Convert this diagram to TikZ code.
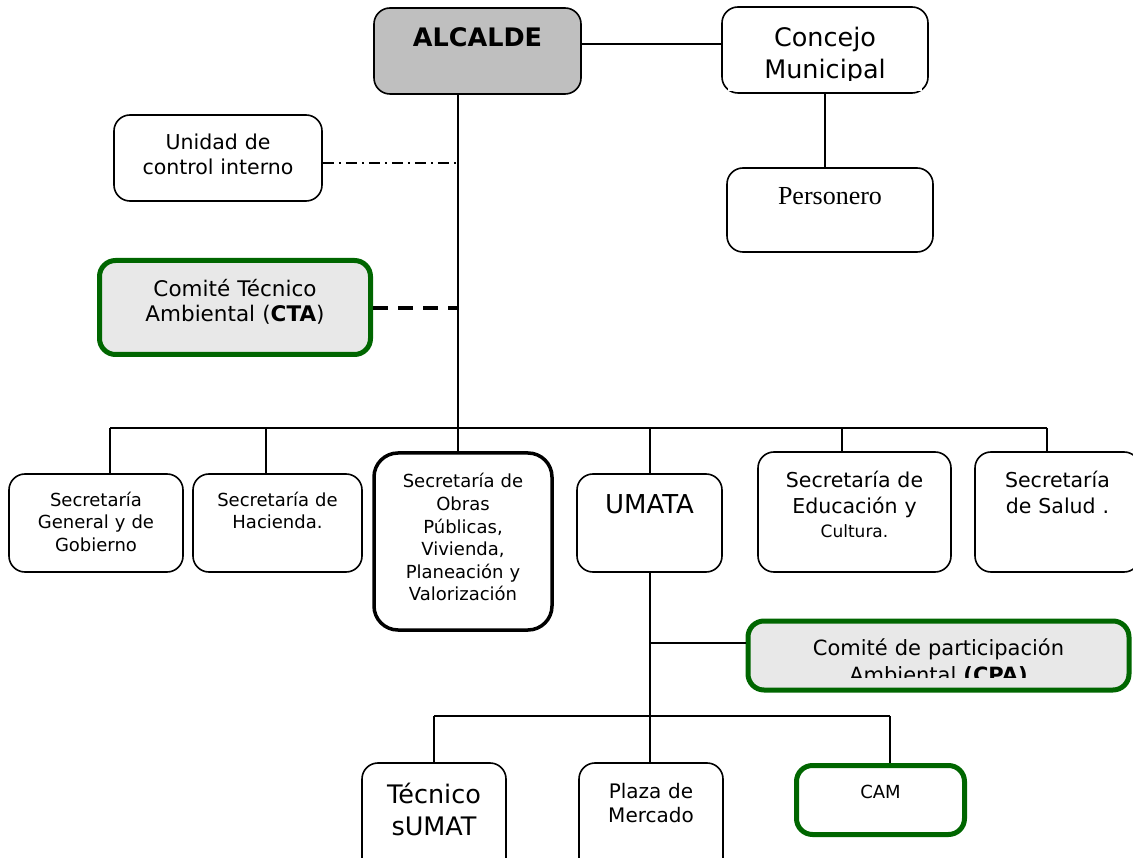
\documentclass[tikz,border=0pt]{standalone}
\usepackage{fontspec}
\setmainfont{DejaVu Sans}
\newfontfamily\serifface{Liberation Serif}
\usetikzlibrary{calc}
\definecolor{cgreen}{RGB}{0,102,0}
\newcommand{\fs}[2]{\fontsize{#1}{#2}\selectfont}
\tikzset{
  unit/.style={draw, line width=1.6pt, rounded corners=16pt, align=center, inner sep=0pt},
  greenunit/.style={unit, draw=cgreen, line width=5pt, fill=gray!18},
  link/.style={line width=1.6pt},
  ctrl/.style={line width=1.2pt, dash pattern=on 11pt off 5pt on 2pt off 5pt},
  advice/.style={line width=3.5pt, dash pattern=on 15pt off 10pt},
}

\begin{document}
\begin{tikzpicture}[x=1pt,y=-1pt]
  \useasboundingbox (0,0) rectangle (1133,858);
  % top
  \node[unit, fill=gray!50, text width=207pt, text height=39pt, text depth=47pt, font=\fs{25.5}{30}\bfseries] (alc) at (477.5,51) {ALCALDE};
  \node[unit, text width=206pt, text height=40pt, text depth=46pt, font=\fs{25.5}{32}] (con) at (825,50) {Concejo\\Municipal};
  \node[unit, text width=206pt, text height=37pt, text depth=47pt, font=\fs{26}{30}\serifface] (pers) at (830,210) {Personero};
  \node[unit, text width=208pt, text height=35pt, text depth=51pt, font=\fs{20.5}{25}] (uci) at (218,158) {Unidad de\\control interno};
  \node[greenunit, text width=271pt, text height=36.5pt, text depth=57.5pt, font=\fs{21.5}{25}] (cta) at (235,307.5) {Comité Técnico\\Ambiental (\textbf{CTA})};
  % secretarias
  \node[unit, text width=174pt, text height=32pt, text depth=66pt, font=\fs{18}{23}] (sg) at (96,523) {Secretaría\\General y de\\Gobierno};
  \node[unit, text width=169pt, text height=32pt, text depth=66pt, font=\fs{18}{23}] (hac) at (277.5,523) {Secretaría de\\Hacienda.};
  \node[unit, line width=3.5pt, rounded corners=24pt, text width=178pt, text height=35pt, text depth=142pt, font=\fs{18}{22.6}] (obr) at (463,541.5) {Secretaría de\\Obras\\Públicas,\\Vivienda,\\Planeación y\\Valorización};
  \node[unit, text width=145pt, text height=40pt, text depth=58pt, font=\fs{26}{31}] (um) at (649.5,523) {UMATA};
  \node[unit, text width=193pt, text height=36pt, text depth=84pt, font=\fs{20.5}{25}] (edu) at (854.5,512) {Secretaría de\\Educación y\\{\fs{17}{25}Cultura.}};
  \node[unit, text width=165pt, text height=36pt, text depth=84pt, font=\fs{20.5}{25}] (sal) at (1057.5,512) {Secretaría\\de Salud .};
  % umata
  \node[greenunit, text width=381pt, text height=34pt, text depth=35pt, font=\fs{21}{27}] (cpa) at (938.5,655.5) {Comité de participación\\Ambiental \textbf{(CPA)}};
  \node[unit, text width=144pt, text height=40pt, text depth=77pt, font=\fs{25.5}{32}] (tec) at (434,821.5) {Técnico\\sUMAT};
  \node[unit, text width=144pt, text height=35pt, text depth=82pt, font=\fs{20}{24}] (pla) at (651,821.5) {Plaza de\\Mercado};
  \node[greenunit, fill=none, text width=168pt, text height=32.5pt, text depth=36.5pt, font=\fs{18}{22}] (cam) at (880.5,800) {CAM};
  % cut lines of text
  \fill[white] (728,81) rectangle (922,91);
  \fill[gray!18] (760,678) rectangle (1115,687);

  \coordinate (trunk) at (458,428);
  \coordinate (uj) at (458,163);
  \coordinate (cj) at (458,308);
  \coordinate (b1) at (110,428);
  \coordinate (b2) at (266,428);
  \coordinate (b5) at (842,428);
  \coordinate (b6) at (1047,428);
  \coordinate (cp) at (650,643);
  \coordinate (lb) at (650,716);
  \coordinate (l1) at (434,716);
  \coordinate (l3) at (890,716);

  \draw[link] ([yshift=7pt]alc.east) -- ([yshift=7pt]alc.east -| con.west);
  \draw[link] (con.south) -- (con.south |- pers.north);
  \draw[link] (alc.south -| trunk) -- (trunk |- obr.north);
  \draw[ctrl] (uj -| uci.east) -- (uj);
  \draw[advice] (cj -| cta.east) -- (cj);
  \draw[link] (b1) -- (b6);
  \draw[link] (b1) -- (b1 |- sg.north);
  \draw[link] (b2) -- (b2 |- hac.north);
  \draw[link] (lb |- trunk) -- (lb |- um.north);
  \draw[link] (b5) -- (b5 |- edu.north);
  \draw[link] (b6) -- (b6 |- sal.north);
  \draw[link] (lb |- um.south) -- (lb);
  \draw[link] (cp) -- (cp -| cpa.west);
  \draw[link] (l1) -- (l3);
  \draw[link] (l1) -- (l1 |- tec.north);
  \draw[link] (lb) -- (lb |- pla.north);
  \draw[link] (l3) -- (l3 |- cam.north);
\end{tikzpicture}
\end{document}
